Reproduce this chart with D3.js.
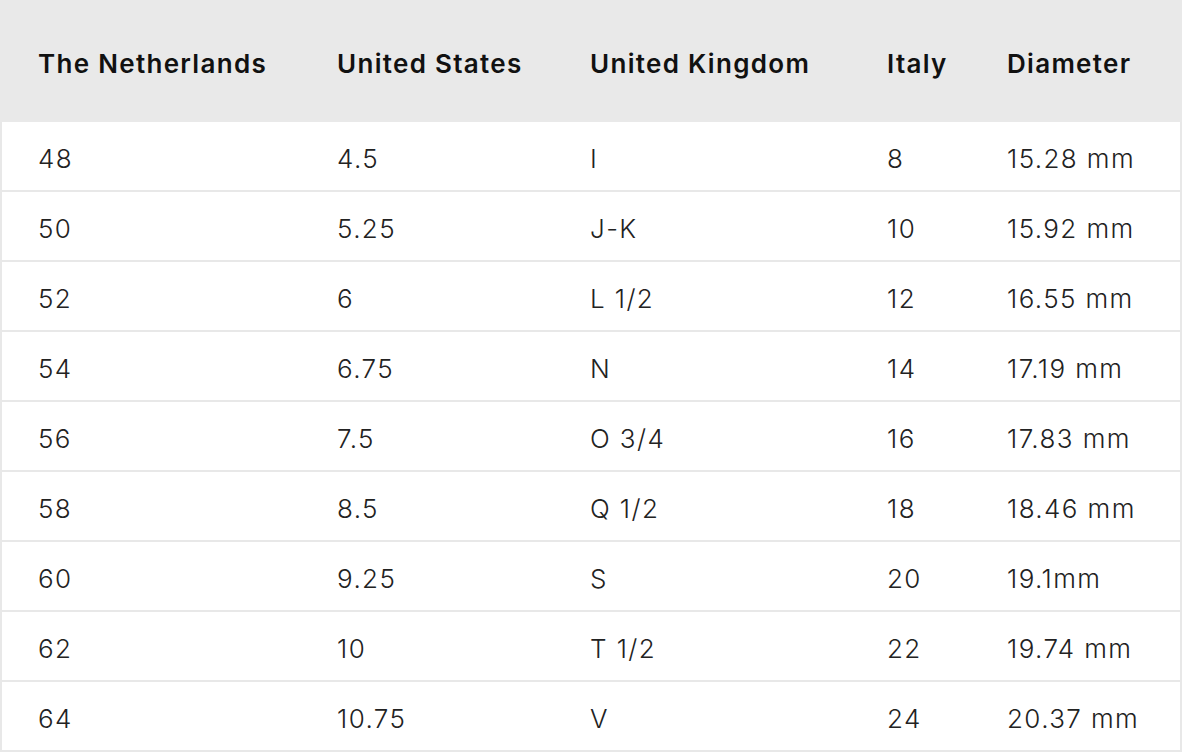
<!DOCTYPE html>
<html><head><meta charset="utf-8">
<script src="https://cdn.jsdelivr.net/npm/d3@7"></script>
<style>body{margin:0;background:#fff}</style>
</head><body>
<svg id="canvas" width="1182" height="756"></svg>
<script>
// ring size conversion table
var headers = ['The Netherlands', 'United States', 'United Kingdom', 'Italy', 'Diameter']
var nl = ['48', '50', '52', '54', '56', '58', '60', '62', '64']
var us = ['4.5', '5.25', '6', '6.75', '7.5', '8.5', '9.25', '10', '10.75']
var uk = ['I', 'J-K', 'L 1/2', 'N', 'O 3/4', 'Q 1/2', 'S', 'T 1/2', 'V']
var it = ['8', '10', '12', '14', '16', '18', '20', '22', '24']
var dia = ['15.28 mm', '15.92 mm', '16.55 mm', '17.19 mm', '17.83 mm', '18.46 mm', '19.1mm', '19.74 mm', '20.37 mm']

var cols = [nl, us, uk, it, dia]
var svg = d3.select('#canvas')
var font = 'Inter, "Open Sans", sans-serif'

var x = d3.scaleOrdinal().domain(d3.range(5)).range([38, 337, 590, 887, 1007])
var y = d3.scaleBand().domain(d3.range(nl.length)).range([122, 752])

// header band
svg.append('rect').attr('x', 0).attr('y', 0).attr('width', 1182).attr('height', 122).attr('fill', '#e9e9e9')
svg.selectAll('.hd').data(headers).enter().append('text')
  .attr('x', (d, i) => x(i)).attr('y', 73)
  .attr('font-family', font).attr('font-size', 26).attr('font-weight', 600)
  .attr('letter-spacing', 1.3)
  .attr('fill', '#111').text(d => d)

// row separators
svg.selectAll('.sep').data(d3.range(nl.length)).enter().append('rect')
  .attr('x', 0).attr('y', d => y(d) + y.bandwidth() - 2)
  .attr('width', 1182).attr('height', 2).attr('fill', '#e8e8e8')
svg.append('rect').attr('x', 0).attr('y', 122).attr('width', 2).attr('height', 630).attr('fill', '#e8e8e8')
svg.append('rect').attr('x', 1180).attr('y', 122).attr('width', 2).attr('height', 630).attr('fill', '#e8e8e8')

cols.forEach((col, c) => {
  svg.selectAll('.c' + c).data(col).enter().append('text')
    .attr('x', x(c)).attr('y', (d, i) => y(i) + 46)
    .attr('font-family', font).attr('font-size', 26).attr('font-weight', 300)
    .attr('letter-spacing', 1.4)
    .attr('fill', '#222').text(d => d)
})
</script>
</body></html>
